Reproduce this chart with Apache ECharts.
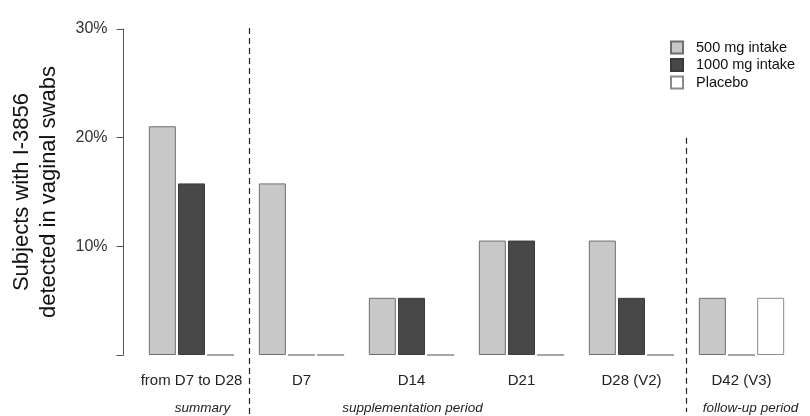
<!DOCTYPE html>
<html>
<head>
<meta charset="utf-8">
<script src="https://cdn.jsdelivr.net/npm/echarts@6/dist/echarts.min.js"></script>
<style>
html,body{margin:0;padding:0;background:#fff;}
#main{width:810px;height:416px;}
</style>
</head>
<body>
<div id="main"></div>
<script>
// timepoints
var categories = ['from D7 to D28', 'D7', 'D14', 'D21', 'D28 (V2)', 'D42 (V3)'];
// % subjects with strain detected (n = 19 per group)
var dose500 = [21.05, 15.79, 5.26, 10.53, 10.53, 5.26];
var dose1000 = [15.79, 0, 5.26, 10.53, 5.26, 0];
var placebo = [0, 0, 0, 0, 0, 5.26];
var seriesNames = ['500 mg intake', '1000 mg intake', 'Placebo'];
var yTicks = [0, 10, 20, 30];
var periods = ['summary', 'supplementation period', 'follow-up period'];

var FONT = '"Liberation Sans", Arial, sans-serif';
var chart = echarts.init(document.getElementById('main'));

function barSeries(name, data, fill, border) {
    return {
        name: name,
        type: 'bar',
        // empty groups show as a thin grey baseline
        data: data.map(function (v) {
            return v === 0 ? {value: v, itemStyle: {borderColor: '#8a8a8a'}} : v;
        }),
        barWidth: 27,
        barGap: '8%',
        itemStyle: {color: fill, borderColor: border, borderWidth: 1},
        emphasis: {disabled: true}
    };
}

var option = {
    animation: false,
    textStyle: {fontFamily: FONT},
    grid: {left: 136.5, right: 13.5, top: 29, bottom: 61, outerBoundsMode: 'none', containLabel: false},
    legend: {
        orient: 'vertical',
        left: 670,
        top: 40,
        padding: 0,
        itemWidth: 12,
        itemHeight: 12,
        itemGap: 2.5,
        icon: 'rect',
        textStyle: {fontSize: 14.5, color: '#111', fontFamily: FONT, padding: [0, 0, 0, 8]},
        data: seriesNames
    },
    xAxis: {
        type: 'category',
        data: categories,
        axisLine: {show: false},
        axisTick: {show: false},
        axisLabel: {fontSize: 15, color: '#222', margin: 18, interval: 0}
    },
    yAxis: {
        type: 'value',
        min: yTicks[0],
        max: yTicks[yTicks.length - 1],
        interval: 10,
        offset: 13,
        name: 'Subjects with I-3856\ndetected in vaginal swabs',
        nameLocation: 'middle',
        nameRotate: 90,
        nameGap: 61,
        nameTextStyle: {fontSize: 22, color: '#111', lineHeight: 27, fontFamily: FONT},
        axisLine: {show: true, lineStyle: {color: '#555', width: 1}},
        axisTick: {show: true, length: 7, lineStyle: {color: '#555'}},
        axisLabel: {
            fontSize: 16, color: '#333', margin: 16,
            formatter: function (v) { return v === 0 ? '' : v + '%'; }
        },
        splitLine: {show: false}
    },
    series: [
        barSeries(seriesNames[0], dose500, '#c8c8c8', '#6e6e6e'),
        barSeries(seriesNames[1], dose1000, '#484848', '#3a3a3a'),
        barSeries(seriesNames[2], placebo, '#ffffff', '#8a8a8a')
    ]
};
chart.setOption(option);

// period separators and captions, placed from the axis scale
function xAt(v) { return chart.convertToPixel({xAxisIndex: 0}, v); }
function yAt(v) { return chart.convertToPixel({yAxisIndex: 0}, v); }
var step = xAt(categories[1]) - xAt(categories[0]);
var sep1 = xAt(categories[0]) + step / 2 + 3;
var sep2 = xAt(categories[4]) + step / 2;
var dash = {stroke: '#222', lineWidth: 1.2, lineDash: [6, 4]};
var capFont = 'italic 13.5px ' + FONT;
chart.setOption({
    graphic: [
        {type: 'line', shape: {x1: sep1, y1: yAt(30) - 1, x2: sep1, y2: 416}, style: dash, silent: true},
        {type: 'line', shape: {x1: sep2, y1: yAt(20), x2: sep2, y2: 412}, style: dash, silent: true},
        {type: 'text', x: xAt(categories[0]) + 11, y: 408, style: {text: periods[0], font: capFont, fill: '#222', align: 'center', verticalAlign: 'middle'}},
        {type: 'text', x: xAt(categories[2]) + 1, y: 408, style: {text: periods[1], font: capFont, fill: '#222', align: 'center', verticalAlign: 'middle'}},
        {type: 'text', x: xAt(categories[5]) + 9, y: 408, style: {text: periods[2], font: capFont, fill: '#222', align: 'center', verticalAlign: 'middle'}}
    ]
});
window.onresize = chart.resize;
</script>
</body>
</html>
